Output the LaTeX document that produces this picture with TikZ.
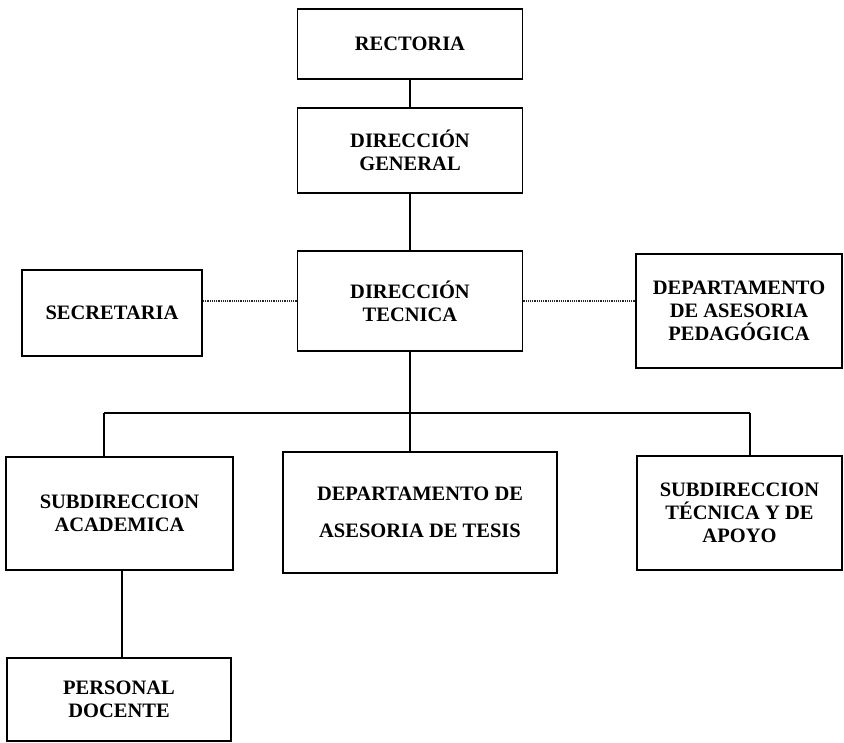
\documentclass[tikz,border=0pt]{standalone}
\usepackage{fontspec}
\setmainfont{Liberation Serif}
\tikzset{
  caja/.style={draw, line width=1.7pt, align=center, inner sep=0pt,
    font=\bfseries\fontsize{20.5}{23}\selectfont},
  linea/.style={line width=1.4pt},
  punteado/.style={line width=1.2pt, densely dotted, black!85}
}
\begin{document}
\begin{tikzpicture}[x=1pt,y=-1pt]
\useasboundingbox (0,0) rectangle (844,743);
% columna central
\node[caja, minimum width=225pt, minimum height=70pt] (rect) at (410,44) {RECTORIA};
\node[caja, minimum width=225pt, minimum height=85pt] (dg) at (410,150.5) {DIRECCIÓN\\GENERAL};
\node[caja, minimum width=225pt, minimum height=100pt] (dt) at (410,301) {DIRECCIÓN\\TECNICA};
% a los lados
\node[caja, minimum width=180pt, minimum height=86pt] (sec) at (112,313) {SECRETARIA};
\node[caja, minimum width=206pt, minimum height=114pt] (dap) at (739,311) {DEPARTAMENTO\\DE ASESORIA\\PEDAGÓGICA};
% abajo
\node[caja, minimum width=227pt, minimum height=113pt] (sa) at (119.5,513.5) {SUBDIRECCION\\ACADEMICA};
\node[caja, minimum width=274pt, minimum height=121pt] (dat) at (420,512.5) {DEPARTAMENTO DE\\[14pt]ASESORIA DE TESIS};
\node[caja, minimum width=205pt, minimum height=114pt] (sta) at (739.5,513) {SUBDIRECCION\\TÉCNICA Y DE\\APOYO};
\node[caja, minimum width=224pt, minimum height=83pt] (pd) at (119,699.5) {PERSONAL\\DOCENTE};
% conexiones
\coordinate (bizq) at (104,413);
\coordinate (bder) at (750,413);
\draw[linea] (rect.south) -- (dg.north);
\draw[linea] (dg.south) -- (dt.north);
\draw[linea] (dt.south) -- (dt.south |- dat.north);
\draw[linea] (bizq) -- (bder);
\draw[linea] (bizq) -- (bizq |- sa.north);
\draw[linea] (bder) -- (bder |- sta.north);
\draw[linea] ([xshift=2.5pt]sa.south) -- ([xshift=2.5pt]sa.south |- pd.north);
\draw[punteado] (dt.west) -- (dt.west -| sec.east);
\draw[punteado] (dt.east) -- (dt.east -| dap.west);
\end{tikzpicture}
\end{document}
